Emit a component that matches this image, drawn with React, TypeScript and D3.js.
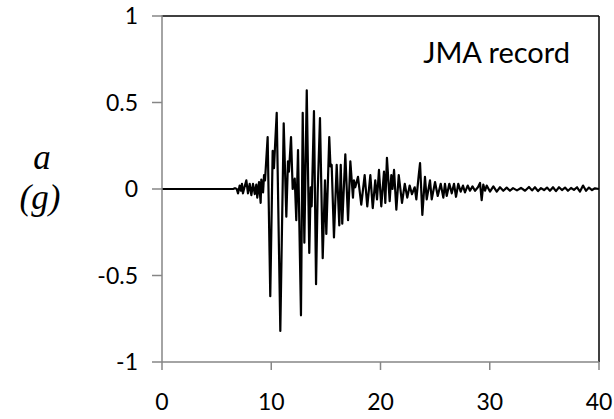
import React from "react";
import * as d3 from "d3";

const timeS: number[] = [
  0, 6.5, 6.68, 6.84, 6.96, 7.11, 7.23, 7.32, 7.41, 7.55, 7.72, 7.87, 8.03, 8.18, 8.33, 8.49, 8.63, 8.72, 8.88, 9.03,
  9.09, 9.25, 9.34, 9.43, 9.67, 9.91, 10.13, 10.25, 10.34, 10.5, 10.83, 11.14, 11.38, 11.53, 11.62, 11.81, 11.96, 12.15, 12.29, 12.45,
  12.72, 12.88, 13.03, 13.25, 13.48, 13.61, 13.7, 13.91, 14.1, 14.25, 14.46, 14.71, 14.92, 15.04, 15.31, 15.42, 15.53, 15.74, 15.99, 16.23,
  16.36, 16.5, 16.78, 17.03, 17.24, 17.48, 17.57, 17.69, 17.94, 18.24, 18.55, 18.79, 19.07, 19.29, 19.52, 19.68, 19.86, 20.07, 20.32, 20.44,
  20.59, 20.84, 20.99, 21.1, 21.24, 21.45, 21.67, 21.97, 22.22, 22.45, 22.67, 22.88, 23.13, 23.28, 23.5, 23.62, 23.83, 24.07, 24.23, 24.53,
  24.69, 24.99, 25.24, 25.51, 25.75, 25.9, 26.06, 26.3, 26.52, 26.73, 26.91, 27.12, 27.34, 27.55, 27.73, 27.98, 28.19, 28.42, 28.65, 28.92,
  29.11, 29.26, 29.41, 29.57, 29.72, 30.02, 30.33, 30.64, 30.94, 31.24, 31.55, 31.85, 32.13, 32.49, 32.86, 33.23, 33.59, 33.87, 34.14, 34.42,
  34.69, 34.97, 35.24, 35.51, 35.79, 36.06, 36.34, 36.61, 36.89, 37.16, 37.44, 37.71, 37.99, 38.26, 38.54, 38.81, 39.08, 39.36, 39.63, 40,
];

const accelG: number[] = [
  0, 0, 0.005, 0, -0.025, 0.02, -0.01, 0.03, -0.025, 0.01, 0.05, -0.025, 0.03, -0.035, 0.03, -0.03, 0.025, -0.05, 0.04, -0.08,
  0.055, -0.02, 0.08, 0.05, 0.3, -0.62, 0.22, 0.12, 0.24, 0.44, -0.82, 0.38, -0.16, 0.16, 0.1, 0.3, 0, 0.06, -0.18, 0.225,
  -0.73, 0.44, -0.31, 0.57, -0.37, 0.01, -0.1, 0.45, -0.55, -0.02, 0.41, -0.4, 0.05, -0.26, 0.3, 0.13, 0.14, -0.28, 0.14, -0.21,
  0.14, -0.2, 0.2, -0.18, 0.16, -0.05, 0.05, 0.01, 0.07, -0.09, 0.08, -0.1, 0.08, -0.11, 0.05, -0.06, 0.11, -0.1, 0.1, -0.08,
  0.18, -0.07, 0.08, 0, 0.11, -0.12, 0.08, -0.08, 0.03, -0.05, 0.02, -0.03, 0.01, -0.06, 0.08, 0.15, -0.15, 0.07, -0.06, 0.05,
  -0.06, 0.04, -0.04, 0.03, -0.05, 0.03, -0.04, 0.03, -0.025, 0.03, -0.045, 0.03, -0.015, 0.02, -0.02, 0.02, -0.01, 0.015, -0.01, 0.01,
  0.035, -0.065, 0.025, -0.01, 0.02, -0.015, 0.015, -0.015, 0.01, -0.01, 0.008, -0.01, 0.005, -0.008, 0.006, -0.01, 0.012, -0.008, 0.01, -0.012,
  0.005, -0.006, 0.008, -0.01, 0.01, -0.012, 0.01, -0.006, 0.008, -0.01, 0.006, -0.005, 0.01, -0.015, 0.02, -0.01, 0.008, -0.006, 0.004, 0,
];

const xTicks: number[] = [0, 10, 20, 30, 40];
const yTicks: number[] = [-1, -0.5, 0, 0.5, 1];
const yTickLabels: string[] = ["-1", "-0.5", "0", "0.5", "1"];

export default function App() {
  const left = 162;
  const right = 599;
  const top = 16;
  const bottom = 362;
  const x = d3.scaleLinear().domain([0, 40]).range([left, right]);
  const y = d3.scaleLinear().domain([-1, 1]).range([bottom, top]);
  const pts: [number, number][] = timeS.map((t, i) => [t, accelG[i]]);
  const line = d3
    .line<[number, number]>()
    .x((d) => x(d[0]))
    .y((d) => y(d[1]));
  const tickFont = "Lato, 'Open Sans', sans-serif";
  const axisColor = "#868686";

  return (
    <svg
      width={614}
      height={419}
      style={{ position: "absolute", left: 0, top: 0, background: "#fff" }}
    >
      <rect x={0} y={0} width={614} height={419} fill="#fff" />
      <line x1={left} y1={top} x2={right} y2={top} stroke="#000" strokeWidth={1.5} />
      <line x1={right} y1={top} x2={right} y2={bottom} stroke="#000" strokeWidth={1.5} />
      <path d={line(pts) || ""} fill="none" stroke="#000" strokeWidth={2.2} strokeLinejoin="round" />
      <line x1={left} y1={top - 1} x2={left} y2={bottom} stroke={axisColor} strokeWidth={1.5} />
      <line x1={left} y1={bottom} x2={right} y2={bottom} stroke={axisColor} strokeWidth={1.5} />
      {yTicks.map((v, i) => (
        <g key={"y" + v}>
          <line x1={left - 10} y1={y(v)} x2={left} y2={y(v)} stroke={axisColor} strokeWidth={1.5} />
          <text
            x={138}
            y={y(v)}
            dy="0.36em"
            textAnchor="end"
            fontFamily={tickFont}
            fontSize={23}
            fill="#000"
          >
            {yTickLabels[i]}
          </text>
        </g>
      ))}
      {xTicks.map((v) => (
        <g key={"x" + v}>
          <line x1={x(v)} y1={bottom} x2={x(v)} y2={bottom + 8} stroke={axisColor} strokeWidth={1.5} />
          <text
            x={x(v)}
            y={410}
            textAnchor="middle"
            fontFamily={tickFont}
            fontSize={23}
            fill="#000"
          >
            {v}
          </text>
        </g>
      ))}
      <text x={570} y={63} textAnchor="end" fontFamily={tickFont} fontSize={29} fill="#000">
        JMA record
      </text>
      <text
        x={42}
        y={169}
        textAnchor="middle"
        fontFamily="'Liberation Serif', serif"
        fontStyle="italic"
        fontSize={35}
        fill="#000"
      >
        a
      </text>
      <text
        x={40}
        y={209}
        textAnchor="middle"
        fontFamily="'Liberation Serif', serif"
        fontStyle="italic"
        fontSize={35}
        fill="#000"
      >
        (g)
      </text>
    </svg>
  );
}
